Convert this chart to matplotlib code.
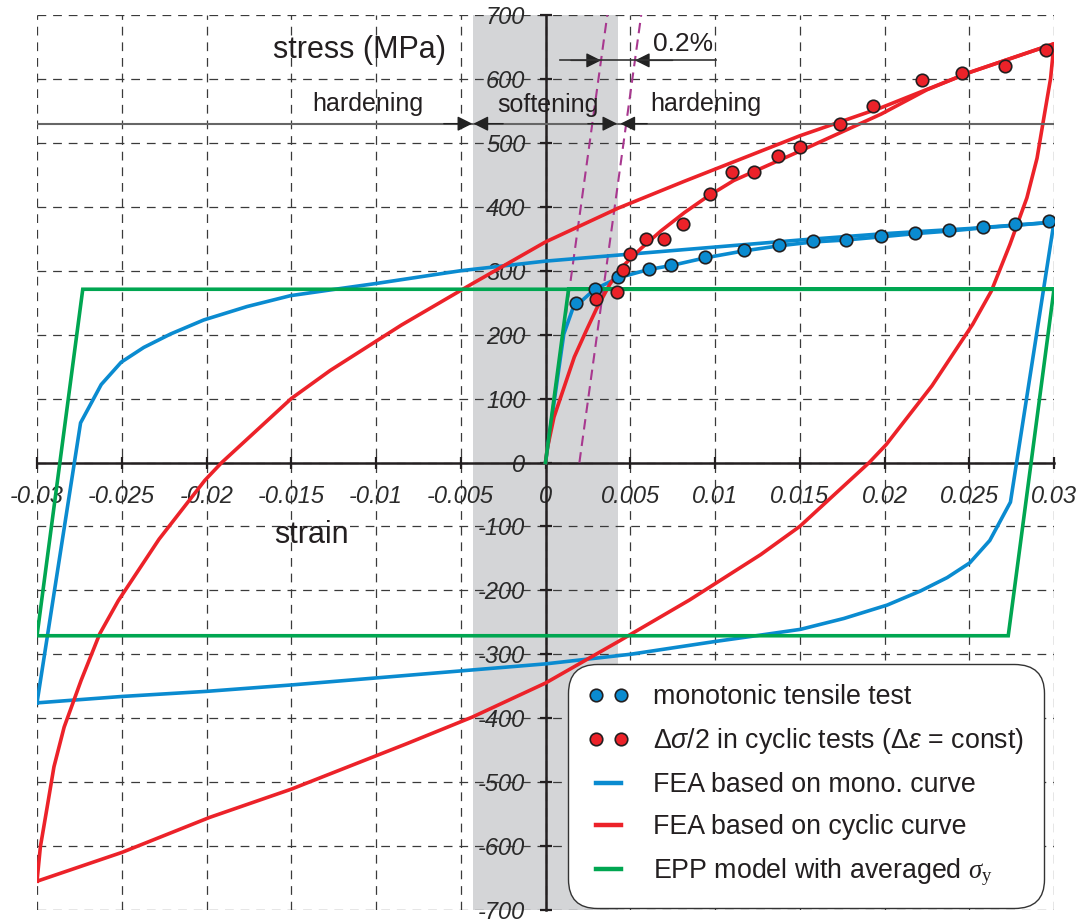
import numpy as np
import matplotlib.pyplot as plt
from matplotlib.lines import Line2D

plt.rcParams['font.family'] = ['Liberation Sans', 'DejaVu Sans']
plt.rcParams['axes.unicode_minus'] = False
plt.rcParams['mathtext.fontset'] = 'custom'
plt.rcParams['mathtext.rm'] = 'Liberation Serif'
plt.rcParams['mathtext.it'] = 'Liberation Serif:italic'
plt.rcParams['mathtext.sf'] = 'Liberation Sans:italic'

# monotonic tensile test (points)
mono_eps = [0.0018, 0.0029, 0.0043, 0.0061, 0.0074, 0.0094, 0.0117, 0.0138, 0.0158,
            0.0177, 0.0198, 0.0218, 0.0238, 0.0258, 0.0277, 0.0297]
mono_sig = [249, 271, 290, 303, 309, 322, 333, 340, 346, 348, 354, 359, 363, 368, 373, 377]

# delta sigma / 2 in cyclic tests (points)
cyc_eps = [0.0030, 0.0042, 0.0046, 0.0050, 0.0059, 0.0070, 0.0081, 0.0097, 0.0110,
           0.0123, 0.0137, 0.0150, 0.0174, 0.0193, 0.0222, 0.0246, 0.0271, 0.0295]
cyc_sig = [256, 267, 301, 326, 350, 350, 373, 420, 455, 455, 480, 493, 530, 558,
           598, 609, 620, 646]

# FEA based on mono curve: first loading + upper branch of the loop
fea_mono_load_eps = [0, 0.00108, 0.0016, 0.0029, 0.0043, 0.0061, 0.0074, 0.0094, 0.0117,
                     0.0138, 0.0158, 0.0177, 0.0198, 0.0218, 0.0238, 0.0258, 0.0277, 0.030]
fea_mono_load_sig = [0, 201, 240, 271, 289, 302, 308, 320, 331, 339, 345, 348, 353, 358,
                     362, 367, 371, 376]
fea_mono_loop_eps = [-0.030, -0.02743, -0.02621, -0.02503, -0.0237, -0.02212, -0.02016,
                     -0.0176, -0.01504, -0.01268, -0.010, -0.005, 0.0, 0.005, 0.010,
                     0.015, 0.020, 0.025, 0.030]
fea_mono_loop_sig = [-376, 62, 122, 157, 180, 201, 223, 244, 261, 270, 280, 300, 315,
                     326, 337, 348, 358, 366, 376]

# FEA based on cyclic curve
fea_cyc_load_eps = [0, 0.0001, 0.0005, 0.0011, 0.0017, 0.0024, 0.0030, 0.0038, 0.0046,
                    0.0056, 0.0068, 0.0082, 0.0095, 0.0111, 0.0150, 0.0174, 0.0198,
                    0.0225, 0.0250, 0.030]
fea_cyc_load_sig = [0, 21, 71, 118, 165, 206, 240, 279, 308, 334, 362, 391, 415, 441,
                    487, 516, 545, 583, 610, 655]
fea_cyc_loop_eps = [-0.030, -0.0299, -0.0298, -0.0296, -0.0294, -0.0290, -0.0284, -0.0274,
                    -0.0263, -0.0252, -0.0228, -0.0201, -0.0191, -0.0150, -0.0127,
                    -0.0085, -0.0043, 0.0, 0.0043, 0.0082, 0.0150, 0.0198, 0.0250, 0.030]
fea_cyc_loop_sig = [-655, -628, -601, -570, -539, -476, -414, -341, -268, -216, -120,
                    -28, 0, 100, 144, 215, 280, 345, 398, 440, 511, 555, 610, 655]

# EPP model
epp_eps = [0, 0.00136, 0.030, 0.0273, -0.030, -0.0273, 0.030]
epp_sig = [0, 271, 271, -271, -271, 271, 271]

# 0.2% offset lines
E_line = 192000
offset_eps = [0.0, 0.002]

xticks = [-0.03, -0.025, -0.02, -0.015, -0.01, -0.005, 0, 0.005, 0.01, 0.015, 0.02, 0.025, 0.03]
xlabels = ['-0.03', '-0.025', '-0.02', '-0.015', '-0.01', '-0.005', '0', '0.005', '0.01',
           '0.015', '0.02', '0.025', '0.03']
yticks = list(range(-700, 701, 100))
ylabels = [str(v) for v in yticks]

blue = '#0a8bd0'
red = '#ec2229'
green = '#00a651'
purple = '#a8388f'
dark = '#231f20'

fig = plt.figure(figsize=(10.82, 9.23), dpi=100)
ax = fig.add_axes([37 / 1082, 13 / 923, 1017 / 1082, 895 / 923])
ax.set_xlim(-0.03, 0.03)
ax.set_ylim(-700, 700)

# shaded softening zone
ax.axvspan(-0.0043, 0.0043, color='#d4d5d7', lw=0, zorder=0)

# grid
ax.set_axisbelow(True)
ax.grid(True, color='#3a3a3a', lw=0.9, ls=(0, (7, 5.5)))
for gl in ax.get_xgridlines() + ax.get_ygridlines():
    gl.set_clip_on(False)

# axes through origin
for s in ['top', 'right']:
    ax.spines[s].set_visible(False)
ax.spines['left'].set_position(('data', 0))
ax.spines['bottom'].set_position(('data', 0))
for s in ['left', 'bottom']:
    ax.spines[s].set_linewidth(1.8)
    ax.spines[s].set_color(dark)

ax.set_xticks(xticks, xlabels, fontstyle='italic', fontsize=17, color='#2a2a2a')
ax.set_yticks(yticks, ylabels, fontstyle='italic', fontsize=17, color='#2a2a2a')
ax.tick_params(axis='both', direction='inout', length=9, width=1.6, color=dark)
ax.tick_params(axis='x', pad=12)
ax.tick_params(axis='y', pad=10)

# offset lines
for e0 in offset_eps:
    ax.plot([e0, e0 + 700 / E_line], [0, 700], color=purple, lw=1.5,
            ls=(0, (5, 3)), zorder=2.8)

# FEA curves
lw = 2.6
ax.plot(fea_mono_load_eps, fea_mono_load_sig, color=blue, lw=lw, zorder=3)
me = np.array(fea_mono_loop_eps)
ms = np.array(fea_mono_loop_sig)
ax.plot(np.concatenate([me, -me]), np.concatenate([ms, -ms]), color=blue, lw=lw, zorder=3)

ce = np.array(fea_cyc_loop_eps)
cs = np.array(fea_cyc_loop_sig)
ax.plot(np.concatenate([ce, -ce]), np.concatenate([cs, -cs]), color=red, lw=lw, zorder=3.1)
ax.plot(fea_cyc_load_eps, fea_cyc_load_sig, color=red, lw=lw, zorder=3.1)

ax.plot(epp_eps, epp_sig, color=green, lw=lw, zorder=3.2, solid_joinstyle='miter')

# test points
ax.plot(mono_eps, mono_sig, 'o', ms=9, mfc=blue, mec=dark, mew=1.2, zorder=4.5)
ax.plot(cyc_eps, cyc_sig, 'o', ms=9, mfc=red, mec=dark, mew=1.2, zorder=4.5)

# hardening / softening arrows
y_arr = 530
ax.plot([-0.03, 0.03], [y_arr, y_arr], color='#666666', lw=1.5, zorder=4)
head = dict(arrowstyle='-|>,head_length=0.6,head_width=0.3', color='#222222',
            lw=1.0, shrinkA=0, shrinkB=0, mutation_scale=15)
for tip, tail in [(-0.00432, -0.006), (-0.00425, -0.0025), (0.00423, 0.0025), (0.00442, 0.006)]:
    ax.annotate('', xy=(tip, y_arr), xytext=(tail, y_arr), arrowprops=head, zorder=4)

# 0.2% dimension
y_dim = 629
ax.plot([0.00083, 0.01003], [y_dim, y_dim], color='#333333', lw=1.2, zorder=4)
ax.annotate('', xy=(y_dim / E_line, y_dim), xytext=(0.0015, y_dim), arrowprops=head)
ax.annotate('', xy=(0.002 + y_dim / E_line, y_dim), xytext=(0.0075, y_dim), arrowprops=head)

txt = dict(ha='center', va='center', color=dark)
ax.text(-0.0110, 645, 'stress (MPa)', fontsize=22, **txt)
ax.text(-0.0138, -114, 'strain', fontsize=22, **txt)
ax.text(-0.0105, 561, 'hardening', fontsize=18, **txt)
ax.text(0.00015, 559, 'softening', fontsize=18, **txt)
ax.text(0.00944, 561, 'hardening', fontsize=18, **txt)
ax.text(0.0081, 655, '0.2%', fontsize=19, **txt)

# legend
handles = [
    Line2D([], [], ls='none', marker='o', ms=9, mfc=blue, mec=dark, mew=1.2),
    Line2D([], [], ls='none', marker='o', ms=9, mfc=red, mec=dark, mew=1.2),
    Line2D([], [], color=blue, lw=3.2),
    Line2D([], [], color=red, lw=3.2),
    Line2D([], [], color=green, lw=3.2),
]
labels = [
    'monotonic tensile test',
    r'Δ$\mathsf{\sigma}$/2 in cyclic tests (Δ$\mathsf{\varepsilon}$ = const)',
    'FEA based on mono. curve',
    'FEA based on cyclic curve',
    r'EPP model with averaged $\sigma_\mathrm{y}$',
]
leg = ax.legend(handles, labels, loc='lower right', bbox_to_anchor=(0.990, 0.002),
                borderaxespad=0, numpoints=2, fontsize=19.3, handlelength=1.55,
                handletextpad=0.87, labelspacing=0.6, borderpad=0.75,
                fancybox=True, framealpha=1, edgecolor='#333333')
leg.get_frame().set_boxstyle('round', pad=0, rounding_size=1.1)
leg.get_frame().set_linewidth(1.0)
for t in leg.get_texts():
    t.set_color(dark)

fig.savefig('out.png', dpi=100)
